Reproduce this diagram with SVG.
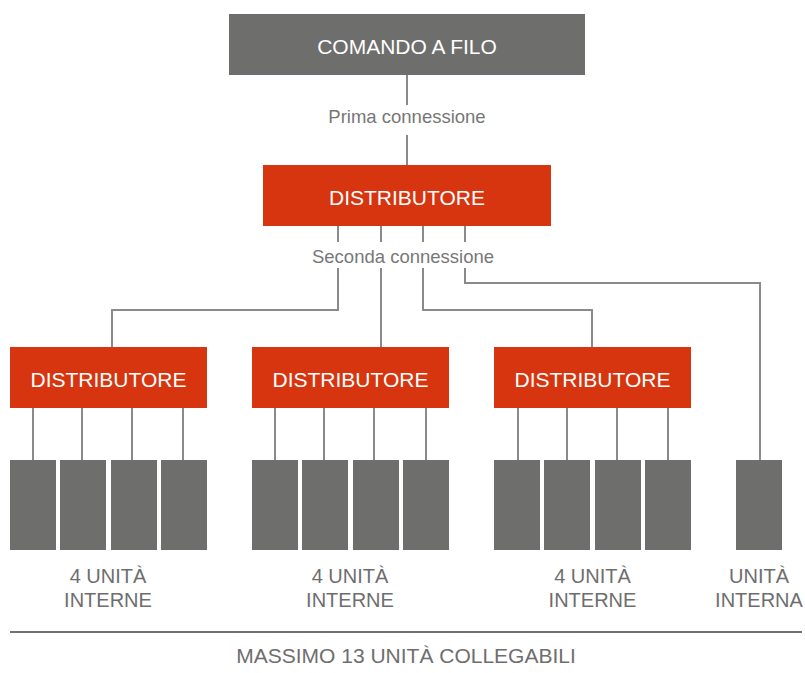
<svg xmlns="http://www.w3.org/2000/svg" width="805" height="673" viewBox="0 0 805 673">
<style>
.gray{fill:#6e6e6d}
.red{fill:#d7350f}
.wt{fill:#ffffff;font-family:"Liberation Sans",Arial,sans-serif;font-size:21px;text-anchor:middle}
.lbl{fill:#6e6e6e;font-family:"Liberation Sans",Arial,sans-serif;font-size:20px;text-anchor:middle}
.ft{fill:#6e6e6e;font-family:"Liberation Sans",Arial,sans-serif;font-size:21px;text-anchor:middle}
.cl{fill:#777777;font-family:"Liberation Sans",Arial,sans-serif;font-size:18.5px;text-anchor:middle}
.ln{fill:none;stroke:#8a8a8a;stroke-width:2}
</style>
<rect width="805" height="673" fill="#ffffff"/>
<g id="connectors">
<path class="ln" d="M407 75V105M407 135V165"/>
<path class="ln" d="M338 226V242M381 226V242M423 226V242M465 226V242"/>
<path class="ln" d="M338 268V310H112V347"/>
<path class="ln" d="M381 268V347"/>
<path class="ln" d="M423 268V310H592V347"/>
<path class="ln" d="M465 268V283H760V460"/>
<path class="ln" d="M33 408V460M82 408V460M132 408V460M183 408V460"/>
<path class="ln" d="M275 408V460M324 408V460M374 408V460M426 408V460"/>
<path class="ln" d="M518 408V460M567 408V460M617 408V460M668 408V460"/>
<text class="cl" x="407" y="123">Prima connessione</text>
<text class="cl" x="403" y="263">Seconda connessione</text>
</g>
<g id="comando"><rect class="gray" x="229" y="14" width="356" height="61"/><text class="wt" x="407" y="54">COMANDO A FILO</text></g>
<g id="distributore-main"><rect class="red" x="263" y="165" width="288" height="61"/><text class="wt" x="407" y="205">DISTRIBUTORE</text></g>
<g id="distributore-1"><rect class="red" x="10" y="347" width="197" height="61"/><text class="wt" x="108.5" y="387">DISTRIBUTORE</text></g>
<g id="distributore-2"><rect class="red" x="252" y="347" width="197" height="61"/><text class="wt" x="350.5" y="387">DISTRIBUTORE</text></g>
<g id="distributore-3"><rect class="red" x="494" y="347" width="197" height="61"/><text class="wt" x="592.5" y="387">DISTRIBUTORE</text></g>
<g id="units-1">
<rect class="gray" x="10" y="460" width="46" height="90"/><rect class="gray" x="60" y="460" width="46" height="90"/><rect class="gray" x="111" y="460" width="46" height="90"/><rect class="gray" x="161" y="460" width="46" height="90"/>
<text class="lbl" x="108" y="583">4 UNITÀ</text><text class="lbl" x="108" y="607">INTERNE</text>
</g>
<g id="units-2">
<rect class="gray" x="252" y="460" width="46" height="90"/><rect class="gray" x="302" y="460" width="46" height="90"/><rect class="gray" x="353" y="460" width="46" height="90"/><rect class="gray" x="403" y="460" width="46" height="90"/>
<text class="lbl" x="350" y="583">4 UNITÀ</text><text class="lbl" x="350" y="607">INTERNE</text>
</g>
<g id="units-3">
<rect class="gray" x="494" y="460" width="46" height="90"/><rect class="gray" x="544" y="460" width="46" height="90"/><rect class="gray" x="595" y="460" width="46" height="90"/><rect class="gray" x="645" y="460" width="46" height="90"/>
<text class="lbl" x="592.5" y="583">4 UNITÀ</text><text class="lbl" x="592.5" y="607">INTERNE</text>
</g>
<g id="unit-single">
<rect class="gray" x="736" y="460" width="46" height="90"/>
<text class="lbl" x="759" y="583">UNITÀ</text><text class="lbl" x="759" y="607">INTERNA</text>
</g>
<g id="footer">
<line x1="10" y1="632" x2="802" y2="632" stroke="#707070" stroke-width="2"/>
<text class="ft" x="406" y="663">MASSIMO 13 UNITÀ COLLEGABILI</text>
</g>
</svg>
